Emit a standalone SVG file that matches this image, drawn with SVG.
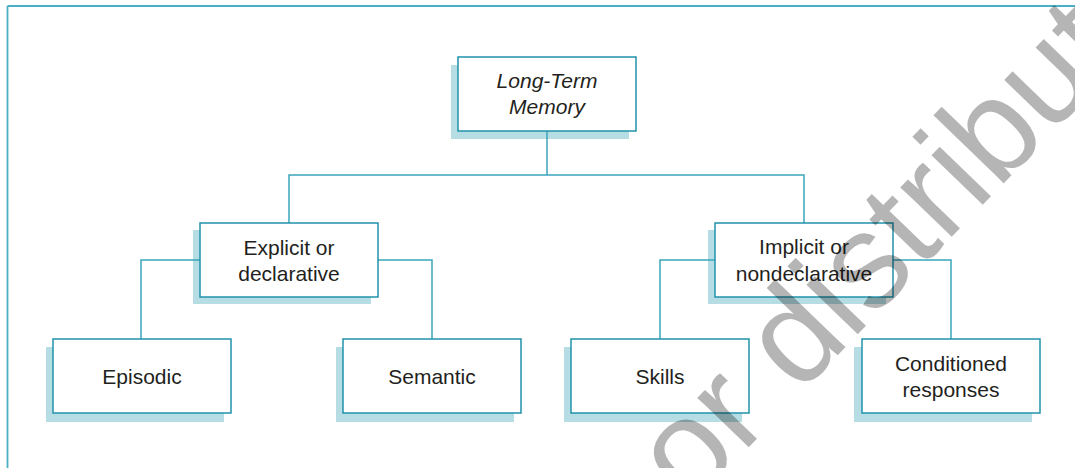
<svg xmlns="http://www.w3.org/2000/svg" width="1075" height="468" viewBox="0 0 1075 468">
  <style>
    .shadow { fill: #b7dde4; }
    .box { fill: #ffffff; stroke: #2192aa; stroke-width: 1.5; }
    .conn { fill: none; stroke: #3aa5ba; stroke-width: 1.5; }
    .lbl { font-family: "Liberation Sans", Arial, sans-serif; font-size: 21px; fill: #231f20; text-anchor: middle; }
    .it { font-style: italic; }
    .wm { font-family: "Liberation Sans", Arial, sans-serif; font-size: 135px; fill: #000000; fill-opacity: 0.29; }
  </style>
  <rect x="0" y="0" width="1075" height="468" fill="#ffffff"/>
  <g id="frame">
    <line x1="7.5" y1="6" x2="1075" y2="6" stroke="#4aafc2" stroke-width="1.8"/>
    <line x1="7.5" y1="6" x2="7.5" y2="468" stroke="#4aafc2" stroke-width="1.8"/>
  </g>
  <g id="shadows">
    <rect class="shadow" x="451" y="65" width="178" height="74"/>
    <rect class="shadow" x="193" y="230" width="178" height="74"/>
    <rect class="shadow" x="708" y="230" width="178" height="74"/>
    <rect class="shadow" x="46" y="347" width="178" height="75"/>
    <rect class="shadow" x="336" y="347" width="178" height="75"/>
    <rect class="shadow" x="564" y="347" width="178" height="75"/>
    <rect class="shadow" x="854" y="347" width="178" height="75"/>
  </g>
  <g id="connectors">
    <path class="conn" d="M547,131 V175"/>
    <path class="conn" d="M289,223 V175 H804 V223"/>
    <path class="conn" d="M200,260 H141 V339"/>
    <path class="conn" d="M378,260 H432 V339"/>
    <path class="conn" d="M715,260 H660 V339"/>
    <path class="conn" d="M893,260 H951 V339"/>
  </g>
  <g id="ltm">
    <rect class="box" x="458" y="57" width="178" height="74"/>
    <text class="lbl it" x="547" y="88">Long-Term</text>
    <text class="lbl it" x="547" y="114">Memory</text>
  </g>
  <g id="explicit">
    <rect class="box" x="200" y="223" width="178" height="74"/>
    <text class="lbl" x="289" y="255">Explicit or</text>
    <text class="lbl" x="289" y="281">declarative</text>
  </g>
  <g id="implicit">
    <rect class="box" x="715" y="223" width="178" height="74"/>
    <text class="lbl" x="804" y="254">Implicit or</text>
    <text class="lbl" x="804" y="281">nondeclarative</text>
  </g>
  <g id="episodic">
    <rect class="box" x="53" y="339" width="178" height="74"/>
    <text class="lbl" x="142" y="384">Episodic</text>
  </g>
  <g id="semantic">
    <rect class="box" x="343" y="339" width="178" height="74"/>
    <text class="lbl" x="432" y="384">Semantic</text>
  </g>
  <g id="skills">
    <rect class="box" x="571" y="339" width="178" height="74"/>
    <text class="lbl" x="660" y="384">Skills</text>
  </g>
  <g id="conditioned">
    <rect class="box" x="862" y="339" width="178" height="74"/>
    <text class="lbl" x="951" y="371">Conditioned</text>
    <text class="lbl" x="951" y="397">responses</text>
  </g>
  <g id="watermark">
    <text class="wm" transform="translate(690,508) rotate(-46)">or distribut</text>
  </g>
</svg>
